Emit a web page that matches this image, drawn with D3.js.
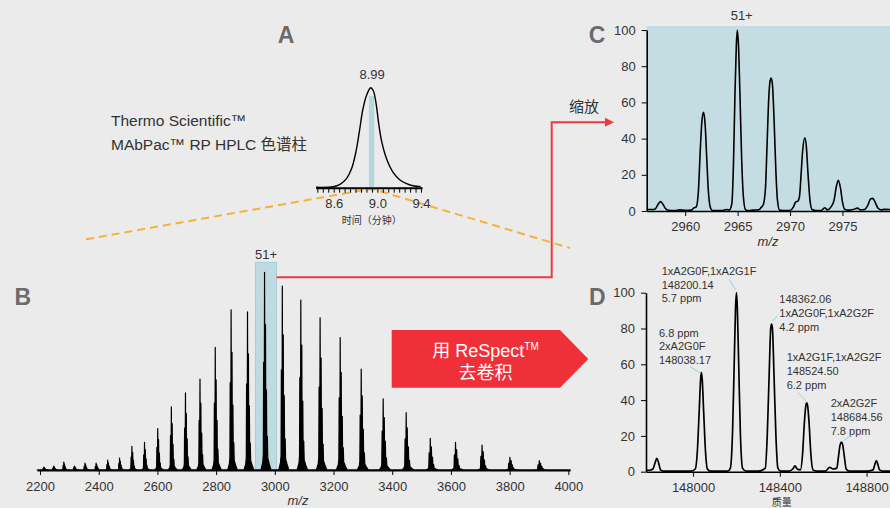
<!DOCTYPE html>
<html>
<head>
<meta charset="utf-8">
<script src="https://cdn.jsdelivr.net/npm/d3@7"></script>
<style>
body { margin: 0; background: #ebebeb; }
svg { display: block; font-family: "Liberation Sans", "Noto Sans CJK SC", Arial, sans-serif; }
.lbl { fill: #333; }
.panel { font-weight: bold; font-size: 23px; fill: #6b6b6b; }
</style>
</head>
<body>
<svg id="fig" width="890" height="508"></svg>
<script>
// ---------- data ----------
// A: HPLC chromatogram (time in min, relative signal)
var chromTime   = [8.438, 8.597, 8.658, 8.719, 8.765, 8.804, 8.835, 8.866, 8.902, 8.939, 8.963, 8.988, 9.012, 9.040, 9.086, 9.146, 9.207, 9.299, 9.397];
var chromSignal = [0.4, 1, 3.4, 9.4, 19.4, 36, 56, 77.7, 92.7, 100, 97, 84.4, 64.4, 46, 28.4, 15, 7.7, 2.7, 1];
var chromLabels = [8.6, 9.0, 9.4];
var chromApex = 8.939;
var chromApexText = "8.99";
var chromBand = [8.925, 8.968];

// B: charge state envelope (m/z of main peak, relative height)
var bCharge = [67, 66, 65, 64, 63, 62, 61, 60, 59, 58, 57, 56, 55, 54, 53, 52, 51, 50, 49, 48, 47, 46, 45, 44, 43, 42, 41, 40, 39, 38];
var bMz     = [2213, 2246.5, 2281, 2317, 2353, 2391, 2430.5, 2471, 2513, 2556, 2601, 2647.4, 2695.5, 2745, 2797, 2851, 2906.9, 2965, 3025.5, 3088.5, 3154.2, 3222.7, 3294.3, 3369.2, 3447.5, 3529.6, 3615.6, 3706, 3801, 3901];
var bHeight = [1.5, 2, 4, 2, 3.5, 3.5, 5, 6, 12, 14, 21, 32, 39, 46, 62, 81, 80, 100, 93, 86, 77, 67, 51, 36, 29, 16, 14, 12.6, 6.4, 4.7];
// glycoform cluster (m/z offset at 50+, relative height)
var clusterOffset = [-12, -6, -4.2, -3.2, -2.2, -1.0, 0, 1.0, 2.2, 3.2, 4.3, 6.45, 7.6, 9.6, 11, 16, 22];
var clusterRel    = [0, 0.04, 0.08, 0.545, 0.12, 0.2, 1, 0.25, 0.2, 0.735, 0.15, 0.405, 0.1, 0.17, 0.06, 0.03, 0];
var bTicks = [2200, 2400, 2600, 2800, 3000, 3200, 3400, 3600, 3800, 4000];
var bWindow = [2934, 3006];
var bWindowLabel = "51+";

// C: zoom of 51+ charge state
var cMz  = [2956.3, 2957.0, 2957.2, 2957.45, 2957.65, 2957.85, 2958.1, 2958.4, 2959.0, 2959.5, 2960.0, 2960.6, 2960.85, 2961.05, 2961.25, 2961.45, 2961.6, 2961.75, 2961.9, 2962.05, 2962.2, 2962.4, 2962.6, 2963.5, 2963.95, 2964.2, 2964.45, 2964.6, 2964.75, 2964.88, 2964.97, 2965.08, 2965.22, 2965.38, 2965.55, 2965.75, 2966.0, 2966.5, 2967.0, 2967.25, 2967.45, 2967.65, 2967.8, 2967.95, 2968.1, 2968.2, 2968.32, 2968.48, 2968.65, 2968.8, 2969.0, 2969.5, 2970.0, 2970.3, 2970.55, 2970.75, 2970.9, 2971.05, 2971.2, 2971.4, 2971.55, 2971.72, 2971.9, 2972.1, 2972.5, 2973.0, 2973.3, 2973.55, 2973.9, 2974.2, 2974.4, 2974.6, 2974.8, 2975.0, 2975.2, 2975.6, 2976.0, 2976.45, 2976.7, 2977.1, 2977.4, 2977.7, 2977.9, 2978.1, 2978.4, 2978.7, 2979.0, 2979.6];
var cInt = [0.8, 0.8, 1.5, 4, 5.2, 4, 1.5, 0.4, 0.3, 0.6, 0.4, 0.5, 1.8, 2.2, 10, 35, 50, 54.5, 48, 30, 12, 2, 0.3, 0.2, 0.8, 0.5, 4, 25, 65, 92, 100, 92, 65, 30, 8, 0.8, 0.2, 0.5, 0.6, 2, 3.5, 12, 35, 60, 72, 73.5, 70, 50, 22, 6, 0.5, 0.2, 0.3, 2, 5, 5.5, 8, 20, 33, 40.5, 36, 20, 6, 0.8, 0.2, 0.3, 1.8, 0.6, 2.2, 6, 13, 17, 13, 5, 1, 0.5, 0.8, 1.6, 0.6, 0.8, 3, 6.8, 7, 5, 1.5, 0.6, 0.9, 0.8];
var cTicks = [2960, 2965, 2970, 2975];
var yTicks = [0, 20, 40, 60, 80, 100];

// D: deconvoluted mass spectrum
var dMass = [147783, 147800, 147815, 147825, 147833, 147841, 147850, 147862, 147900, 147950, 147990, 148010, 148020, 148028, 148035, 148038, 148042, 148049, 148057, 148066, 148080, 148120, 148160, 148172, 148182, 148190, 148196, 148200, 148204, 148210, 148218, 148228, 148245, 148300, 148333, 148342, 148351, 148358, 148362, 148366, 148373, 148382, 148391, 148405, 148440, 148460, 148470, 148480, 148495, 148505, 148513, 148520, 148524, 148528, 148535, 148543, 148553, 148570, 148610, 148630, 148645, 148663, 148670, 148678, 148684, 148690, 148698, 148706, 148720, 148800, 148830, 148838, 148845, 148852, 148860, 148875, 148910];
var dInt  = [0.8, 0.8, 1.5, 5, 7.5, 5, 1, 0.3, 0.3, 0.3, 0.3, 1.5, 12, 33, 52, 55.5, 52, 33, 12, 1.5, 0.3, 0.3, 0.3, 2, 22, 62, 92, 100, 92, 62, 22, 2, 0.3, 0.3, 2, 20, 55, 80, 82.5, 80, 55, 20, 2, 0.3, 0.3, 1.5, 3.3, 1.5, 1, 10, 27, 37, 38.5, 37, 27, 10, 1, 0.3, 0.3, 2.5, 1.5, 2, 8, 15, 16.5, 15, 8, 1.5, 0.3, 0.3, 1, 4, 6.2, 4, 1, 0.3, 0.3];
var dTicks = [148000, 148400, 148800];
var dAnnMass   = ["148038.17", "148200.14", "148362.06", "148524.50", "148684.56"];
var dAnnGlycan = ["2xA2G0F", "1xA2G0F,1xA2G1F", "1xA2G0F,1xA2G2F", "1xA2G1F,1xA2G2F", "2xA2G2F"];
var dAnnPpm    = ["6.8 ppm", "5.7 ppm", "4.2 ppm", "6.2 ppm", "7.8 ppm"];
var dAnnPeakInt = [55.5, 100, 82.5, 38.5, 16.5];

// label layout for panel D: text position, line order, leader start and end offset
var dAnnLayout = [
  { x: 659,   y: 336.7, order: ["ppm", "glycan", "mass"], from: [690, 366.7], to: [-0.7, 0.7] },
  { x: 661.7, y: 275,   order: ["glycan", "mass", "ppm"], from: [729.3, 279.3], to: [-1, -3] },
  { x: 779.3, y: 303.3, order: ["mass", "glycan", "ppm"], from: [777.3, 315.7], to: [1, -3] },
  { x: 786.7, y: 361.3, order: ["glycan", "mass", "ppm"], from: [798.3, 392.7], to: [-1, -2] },
  { x: 830.7, y: 407.3, order: ["glycan", "mass", "ppm"], from: [851.7, 435], to: [2.3, -1.6] }
];

// ---------- drawing ----------
var svg = d3.select("#fig");
svg.append("rect").attr("width", 890).attr("height", 508).attr("fill", "#ebebeb");

function styleAxis(g, w) {
  g.attr("font-size", 13).attr("font-family", null);
  g.select(".domain").attr("stroke", "#000").attr("stroke-width", w);
  g.selectAll(".tick line").attr("stroke", "#000");
  g.selectAll(".tick text").attr("fill", "#333");
}

// scales
var ax = d3.scaleLinear().domain([8.435, 9.41]).range([315.7, 422.1]);
var ay = d3.scaleLinear().domain([0, 100]).range([187.7, 87.7]);
var bx = d3.scaleLinear().domain([2190, 4006]).range([37.1, 570.1]);
var by = d3.scaleLinear().domain([0, 100]).range([470, 272.3]);
var cx = d3.scaleLinear().domain([2956.33, 2979.6]).range([646.7, 890.7]);
var cy = d3.scaleLinear().domain([0, 100]).range([211, 30]);
var dx = d3.scaleLinear().domain([147783, 148908]).range([646, 890]);
var dy = d3.scaleLinear().domain([0, 100]).range([471.7, 292.7]);

// orange dashed zoom lines from chromatogram band to spectrum
var joinX = ax((chromBand[0] + chromBand[1]) / 2), joinY = ay(0) + 1;
svg.append("path")
  .attr("d", "M86,239.3L" + joinX + "," + joinY + "L570,248")
  .attr("fill", "none").attr("stroke", "#f6b13a").attr("stroke-width", 2)
  .attr("stroke-dasharray", "8,5");

// ----- panel A -----
svg.append("text").attr("class", "panel").attr("x", 286).attr("y", 42.5).attr("text-anchor", "middle").text("A");
svg.append("text").attr("class", "lbl").attr("x", 111).attr("y", 125.5).attr("font-size", 15.5).text("Thermo Scientific™");
svg.append("text").attr("class", "lbl").attr("x", 111).attr("y", 150).attr("font-size", 15.5).text("MAbPac™ RP HPLC 色谱柱");

svg.append("rect")
  .attr("x", ax(chromBand[0])).attr("width", ax(chromBand[1]) - ax(chromBand[0]))
  .attr("y", ay(91)).attr("height", ay(0) - ay(91))
  .attr("fill", "#b4d8de").attr("stroke", "#a6d0d8").attr("stroke-width", 0.5);

var chromLine = d3.line().x(function (d, i) { return ax(chromTime[i]); }).y(function (d) { return ay(d); })
  .curve(d3.curveCatmullRom);
svg.append("path").attr("d", chromLine(chromSignal))
  .attr("fill", "none").attr("stroke", "#000").attr("stroke-width", 1.4);

var chromMinor = d3.range(8.45, 9.401, 0.05);
var aAxis = svg.append("g").attr("transform", "translate(0," + ay(0) + ")")
  .call(d3.axisBottom(ax).tickValues(chromMinor).tickSize(5).tickSizeOuter(0).tickPadding(6)
    .tickFormat(function (v) {
      return chromLabels.some(function (l) { return Math.abs(l - v) < 1e-6; }) ? d3.format(".1f")(v) : "";
    }));
styleAxis(aAxis, 2);

svg.append("text").attr("class", "lbl").attr("x", ax(chromApex) + 1.5).attr("y", 78.7)
  .attr("text-anchor", "middle").attr("font-size", 13).text(chromApexText);
svg.append("text").attr("class", "lbl").attr("x", 371.7).attr("y", 223.6)
  .attr("text-anchor", "middle").attr("font-size", 10).text("时间（分钟）");

// ----- panel B -----
svg.append("text").attr("class", "panel").attr("x", 22.7).attr("y", 305).attr("text-anchor", "middle").text("B");

svg.append("rect")
  .attr("x", bx(bWindow[0])).attr("width", bx(bWindow[1]) - bx(bWindow[0]))
  .attr("y", by(105)).attr("height", by(0) - by(105))
  .attr("fill", "#bddbe1").attr("stroke", "#a3cfd7").attr("stroke-width", 1);
svg.append("text").attr("class", "lbl").attr("x", (bx(bWindow[0]) + bx(bWindow[1])) / 2).attr("y", 258.5)
  .attr("text-anchor", "middle").attr("font-size", 13).text(bWindowLabel);

var bPts = [[2190, 0]];
bMz.forEach(function (mz, i) {
  var s = 50 / bCharge[i];
  clusterOffset.forEach(function (o, k) { bPts.push([mz + o * s, clusterRel[k] * bHeight[i]]); });
});
bPts.push([4006, 0]);
var bArea = d3.area().x(function (d) { return bx(d[0]); }).y0(by(0)).y1(function (d) { return by(d[1]); });
svg.append("path").attr("d", bArea(bPts))
  .attr("fill", "#000").attr("stroke", "#000").attr("stroke-width", 1.2).attr("stroke-linejoin", "round");

var bAxis = svg.append("g").attr("transform", "translate(0," + by(0) + ")")
  .call(d3.axisBottom(bx).tickValues(bTicks).tickSize(5).tickSizeOuter(0).tickPadding(7).tickFormat(d3.format("d")));
styleAxis(bAxis, 2.2);
svg.append("text").attr("class", "lbl").attr("x", 298).attr("y", 504.5).attr("text-anchor", "middle")
  .attr("font-size", 13).attr("font-style", "italic").text("m/z");

// red connector to panel C
svg.append("path")
  .attr("d", "M" + bx(bWindow[1]) + ",277.3H551.7V122.3H606")
  .attr("fill", "none").attr("stroke", "#ee3a3f").attr("stroke-width", 2);
svg.append("path").attr("d", "M605,117.8L614,122.3L605,126.8Z").attr("fill", "#ee3a3f");
svg.append("text").attr("class", "lbl").attr("x", 569).attr("y", 112).attr("font-size", 15).text("缩放");

// deconvolution arrow
svg.append("path").attr("d", "M391.7,330H560L588.3,359L560,387.7H391.7Z").attr("fill", "#ef3038");
var t1 = svg.append("text").attr("x", 485.5).attr("y", 356.5).attr("text-anchor", "middle")
  .attr("font-size", 18).attr("fill", "#fff");
t1.append("tspan").text("用 ReSpect");
t1.append("tspan").attr("font-size", 10).attr("dy", -7).text("TM");
svg.append("text").attr("x", 485.5).attr("y", 378.5).attr("text-anchor", "middle")
  .attr("font-size", 18).attr("fill", "#fff").text("去卷积");

// ----- panel C -----
svg.append("text").attr("class", "panel").attr("x", 597).attr("y", 43.3).attr("text-anchor", "middle").text("C");
svg.append("rect").attr("x", cx.range()[0]).attr("y", 26).attr("width", 890 - cx.range()[0]).attr("height", cy(0) - 26)
  .attr("fill", "#c3dde3");
svg.append("defs").append("clipPath").attr("id", "clipC").append("rect")
  .attr("x", cx.range()[0]).attr("y", 0).attr("width", 890 - cx.range()[0]).attr("height", cy(0) + 1);
var cLine = d3.line().x(function (d, i) { return cx(cMz[i]); }).y(function (d) { return cy(d); }).curve(d3.curveMonotoneX);
svg.append("path").attr("d", cLine(cInt)).attr("clip-path", "url(#clipC)")
  .attr("fill", "none").attr("stroke", "#000").attr("stroke-width", 1.6);

var cxAxis = svg.append("g").attr("transform", "translate(0," + cy(0) + ")")
  .call(d3.axisBottom(cx).tickValues(cTicks).tickSize(5).tickSizeOuter(0).tickPadding(6).tickFormat(d3.format("d")));
styleAxis(cxAxis, 1.6);
var cyAxis = svg.append("g").attr("transform", "translate(" + cx.range()[0] + ",0)")
  .call(d3.axisLeft(cy).tickValues(yTicks).tickSize(5).tickSizeOuter(0).tickPadding(6));
styleAxis(cyAxis, 1.6);
svg.append("text").attr("class", "lbl").attr("x", 741.7).attr("y", 19.5).attr("text-anchor", "middle")
  .attr("font-size", 13).text("51+");
svg.append("text").attr("class", "lbl").attr("x", 768).attr("y", 246).attr("text-anchor", "middle")
  .attr("font-size", 13).attr("font-style", "italic").text("m/z");

// ----- panel D -----
svg.append("text").attr("class", "panel").attr("x", 597.3).attr("y", 305).attr("text-anchor", "middle").text("D");
svg.append("defs").append("clipPath").attr("id", "clipD").append("rect")
  .attr("x", dx.range()[0]).attr("y", 250).attr("width", 890 - dx.range()[0]).attr("height", dy(0) - 250 + 1);
var dLine = d3.line().x(function (d, i) { return dx(dMass[i]); }).y(function (d) { return dy(d); }).curve(d3.curveMonotoneX);
svg.append("path").attr("d", dLine(dInt)).attr("clip-path", "url(#clipD)")
  .attr("fill", "none").attr("stroke", "#000").attr("stroke-width", 1.7);

var dxAxis = svg.append("g").attr("transform", "translate(0," + dy(0) + ")")
  .call(d3.axisBottom(dx).tickValues(dTicks).tickSize(5).tickSizeOuter(0).tickPadding(6).tickFormat(d3.format("d")));
styleAxis(dxAxis, 1.6);
var dyAxis = svg.append("g").attr("transform", "translate(" + dx.range()[0] + ",0)")
  .call(d3.axisLeft(dy).tickValues(yTicks).tickSize(5).tickSizeOuter(0).tickPadding(6));
styleAxis(dyAxis, 1.6);
svg.append("text").attr("class", "lbl").attr("x", 781.7).attr("y", 505.5).attr("text-anchor", "middle")
  .attr("font-size", 10).text("质量");

dAnnLayout.forEach(function (L, i) {
  var lines = { mass: dAnnMass[i], glycan: dAnnGlycan[i], ppm: dAnnPpm[i] };
  var txt = svg.append("text").attr("class", "lbl").attr("font-size", 11);
  L.order.forEach(function (key, k) {
    txt.append("tspan").attr("x", L.x).attr("y", L.y + k * 13.6).text(lines[key]);
  });
  var px = dx(+dAnnMass[i]) + L.to[0], py = dy(dAnnPeakInt[i]) + L.to[1];
  svg.append("line").attr("x1", L.from[0]).attr("y1", L.from[1]).attr("x2", px).attr("y2", py)
    .attr("stroke", "#8fd0df").attr("stroke-width", 1);
});
</script>
</body>
</html>
